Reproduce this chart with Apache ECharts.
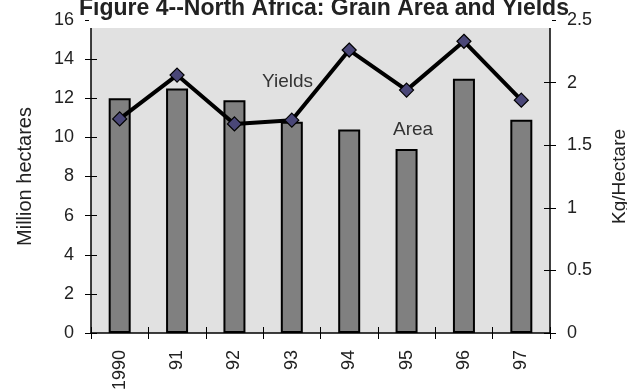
<!DOCTYPE html>
<html>
<head>
<meta charset="utf-8">
<script src="https://cdn.jsdelivr.net/npm/echarts@6/dist/echarts.min.js"></script>
<style>
  html, body { margin: 0; padding: 0; background: #fff; }
  #chart { width: 627px; height: 391px; }
</style>
</head>
<body>
<div id="chart"></div>
<script>
// Grain area (million hectares) and yields (kg/hectare), North Africa, 1990-97
const years = ['1990', '91', '92', '93', '94', '95', '96', '97'];
const area = [12.0, 12.5, 11.9, 10.8, 10.4, 9.4, 13.0, 10.9];
const yields = [1.71, 2.06, 1.67, 1.70, 2.26, 1.94, 2.33, 1.86];

const areaMax = 16, areaStep = 2;
const yieldMax = 2.5, yieldStep = 0.5;

const FONT = '"Liberation Sans", Arial, sans-serif';
const TXT = '#222';

const chart = echarts.init(document.getElementById('chart'), null, { renderer: 'canvas' });

const gridLeft = 91, gridRight = 77, gridTop = 20, gridBottom = 58;

// ticks cross the axis line: one set outside, one set inside
const tickOut = { show: true, inside: false, length: 6, lineStyle: { color: '#000', width: 1 } };
const tickIn = { show: true, inside: true, length: 6, lineStyle: { color: '#000', width: 1 } };

chart.setOption({
  animation: false,
  backgroundColor: '#fff',
  title: {
    text: 'Figure 4--North Africa: Grain Area and Yields',
    left: 319,
    textAlign: 'center',
    top: -8,
    z: 200,
    textStyle: { fontFamily: FONT, fontSize: 23, fontWeight: 'bold', color: TXT }
  },
  grid: {
    left: gridLeft, right: gridRight, top: gridTop, bottom: gridBottom,
    outerBoundsMode: 'none', containLabel: false,
    show: true, backgroundColor: '#e1e1e1', borderWidth: 0
  },
  xAxis: [
    {
      type: 'category', data: years, boundaryGap: true,
      axisLine: { lineStyle: { color: '#000', width: 1.5 } },
      axisTick: tickOut,
      axisLabel: { rotate: 90, margin: 17, fontFamily: FONT, fontSize: 18, color: TXT }
    },
    {
      type: 'category', data: years, boundaryGap: true, position: 'bottom',
      axisLine: { show: false }, axisTick: tickIn, axisLabel: { show: false }
    }
  ],
  yAxis: [
    {
      type: 'value', min: 0, max: areaMax, interval: areaStep, position: 'left',
      name: 'Million hectares', nameLocation: 'middle', nameRotate: 90, nameGap: 56,
      nameTextStyle: { fontFamily: FONT, fontSize: 20, color: TXT },
      splitLine: { show: false },
      axisLine: { show: true, lineStyle: { color: '#000', width: 1.5 } },
      axisTick: tickOut,
      axisLabel: { margin: 17, fontFamily: FONT, fontSize: 18, color: TXT }
    },
    {
      type: 'value', min: 0, max: yieldMax, interval: yieldStep, position: 'right',
      name: 'Kg/Hectare', nameLocation: 'middle', nameRotate: 90, nameGap: 60,
      nameTextStyle: { fontFamily: FONT, fontSize: 19, color: TXT },
      splitLine: { show: false },
      axisLine: { show: true, lineStyle: { color: '#000', width: 1.5 } },
      axisTick: tickOut,
      axisLabel: { margin: 17, fontFamily: FONT, fontSize: 18, color: TXT }
    },
    {
      type: 'value', min: 0, max: areaMax, interval: areaStep, position: 'left',
      splitLine: { show: false }, axisLine: { show: false },
      axisTick: tickIn, axisLabel: { show: false }
    },
    {
      type: 'value', min: 0, max: yieldMax, interval: yieldStep, position: 'right',
      splitLine: { show: false }, axisLine: { show: false },
      axisTick: tickIn, axisLabel: { show: false }
    }
  ],
  series: [
    {
      name: 'Area', type: 'bar', xAxisIndex: 0, yAxisIndex: 0,
      data: area, barWidth: 22,
      itemStyle: { color: '#808080', borderColor: '#000', borderWidth: 2 }
    },
    {
      name: 'Yields', type: 'line', xAxisIndex: 0, yAxisIndex: 1,
      data: yields,
      lineStyle: { color: '#000', width: 4 },
      symbol: 'diamond', symbolSize: 14,
      itemStyle: { color: '#4a4778', borderColor: '#000', borderWidth: 1.2 },
      z: 5
    }
  ],
  graphic: [
    // white band behind the title, over the top of the plot area
    {
      type: 'rect', z: 100,
      shape: { x: gridLeft - 2, y: 0, width: 627 - gridLeft - gridRight + 4, height: 28 },
      style: { fill: '#fff' }
    },
    {
      type: 'text', z: 101, left: 262, top: 72,
      style: { text: 'Yields', font: '19px ' + FONT, fill: '#333' }
    },
    {
      type: 'text', z: 101, left: 393, top: 120,
      style: { text: 'Area', font: '19px ' + FONT, fill: '#333' }
    }
  ]
});
</script>
</body>
</html>
